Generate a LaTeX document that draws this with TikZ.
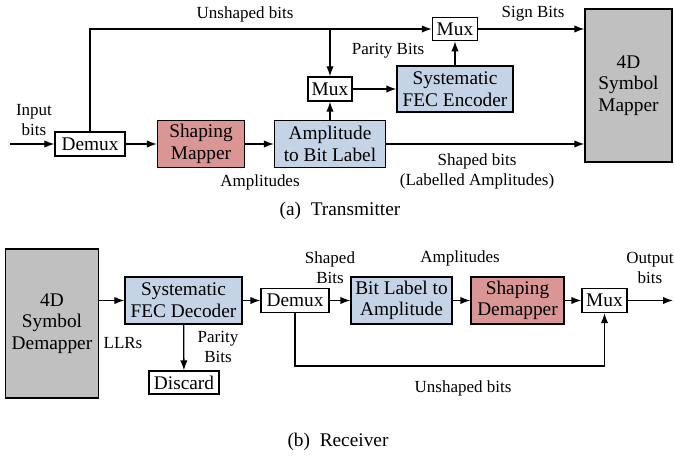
\documentclass[tikz,border=0pt]{standalone}
\usepackage{fontspec}
\setmainfont{Liberation Serif}
\usepackage{tikz}
\usetikzlibrary{arrows.meta, positioning, calc}

\definecolor{shapered}{RGB}{217,150,148}
\definecolor{fecblue}{RGB}{197,211,230}
\definecolor{mapgray}{RGB}{192,192,192}

\begin{document}
\begin{tikzpicture}[x=0.03cm, y=-0.03cm,
  blk/.style={draw, line width=1.1pt, inner sep=1pt, align=center, font=\fontsize{16.5}{18.5}\selectfont},
  lbl/.style={align=center, font=\fontsize{14.5}{17}\selectfont},
  arr/.style={-{Latex[length=3mm, width=2.2mm]}, line width=1.1pt},
  wire/.style={line width=1.1pt}]
\useasboundingbox (0,0) rectangle (674,457);

% Transmitter blocks
\coordinate (in) at (10,144);
\node[blk, minimum width=2.1cm, minimum height=0.72cm] (demux) at (90,144) {Demux};
\node[blk, fill=shapered, minimum width=2.61cm, minimum height=1.41cm] (shapmap) at (201,144) {Shaping\\Mapper};
\node[blk, fill=fecblue, minimum width=3.33cm, minimum height=1.41cm] (amp) at (330,144) {Amplitude\\to Bit Label};
\node[blk, minimum width=1.32cm, minimum height=0.72cm] (muxm) at (330,89) {Mux};
\node[blk, fill=fecblue, minimum width=3.48cm, minimum height=1.38cm] (fecenc) at (455,89) {Systematic\\FEC Encoder};
\node[blk, minimum width=1.35cm, minimum height=0.7cm] (muxt) at (455,29) {Mux};
\node[blk, fill=mapgray, minimum width=2.61cm, minimum height=4.59cm] (mapper) at (628.5,85.5) {4D\\Symbol\\Mapper};
\coordinate (junc) at (330,29);

% Transmitter connections
\draw[arr] (in) -- (demux);
\draw[arr] (demux) -- (shapmap);
\draw[arr] (shapmap) -- (amp);
\draw[wire] (demux.north) |- (junc);
\draw[arr] (junc) -- (muxm);
\draw[arr] (junc) -- (muxt);
\draw[arr] (amp) -- (muxm);
\draw[arr] (muxm) -- (fecenc);
\draw[arr] (fecenc) -- (muxt);
\draw[arr] (muxt.east) -- (muxt.east -| mapper.west);
\draw[arr] (amp.east) -- (amp.east -| mapper.west);

% Transmitter labels
\node[lbl] (inlbl) at (34,120) {Input\\bits};
\node[lbl] (unshlbl) at (245,14) {Unshaped bits};
\node[lbl] (parlbl) at (388,51) {Parity Bits};
\node[lbl] (signlbl) at (533,14) {Sign Bits};
\node[lbl] (amplbl) at (260,182) {Amplitudes};
\node[lbl] (shlbl) at (477,171) {Shaped bits\\(Labelled Amplitudes)};
\node[blk, draw=none] (capa) at (340,211) {(a)\enspace Transmitter};

% Receiver blocks
\node[blk, fill=mapgray, minimum width=2.79cm, minimum height=4.47cm] (demapper) at (52,323.5) {4D\\Symbol\\Demapper};
\node[blk, fill=fecblue, minimum width=3.51cm, minimum height=1.41cm] (fecdec) at (183.5,300.5) {Systematic\\FEC Decoder};
\node[blk, minimum width=2.1cm, minimum height=0.69cm] (discard) at (184,382.5) {Discard};
\node[blk, minimum width=2.04cm, minimum height=0.72cm] (demuxr) at (295,300.5) {Demux};
\node[blk, fill=fecblue, minimum width=3.03cm, minimum height=1.41cm] (bitlab) at (401.5,300.5) {Bit Label to\\Amplitude};
\node[blk, fill=shapered, minimum width=2.79cm, minimum height=1.41cm] (shapdem) at (517.5,300.5) {Shaping\\Demapper};
\node[blk, minimum width=1.35cm, minimum height=0.72cm] (muxr) at (604.5,300.5) {Mux};
\coordinate (out) at (673,300.5);
\coordinate (ubot) at (450,366);

% Receiver connections
\draw[arr] (fecdec.west -| demapper.east) -- (fecdec.west);
\draw[arr] (fecdec) -- (discard);
\draw[arr] (fecdec) -- (demuxr);
\draw[arr] (demuxr) -- (bitlab);
\draw[arr] (bitlab) -- (shapdem);
\draw[arr] (shapdem) -- (muxr);
\draw[arr] (muxr) -- (out);
\draw[arr] (demuxr.south) |- (ubot) -| (muxr.south);

% Receiver labels
\node[lbl] (llrlbl) at (123,343) {LLRs};
\node[lbl] (parrlbl) at (218,347) {Parity\\Bits};
\node[lbl] (shrlbl) at (330,268) {Shaped\\Bits};
\node[lbl] (amprlbl) at (460,258) {Amplitudes};
\node[lbl] (outlbl) at (650,268) {Output\\bits};
\node[lbl] (unshrlbl) at (463,388) {Unshaped bits};
\node[blk, draw=none] (capb) at (338,442) {(b)\enspace Receiver};
\end{tikzpicture}
\end{document}
